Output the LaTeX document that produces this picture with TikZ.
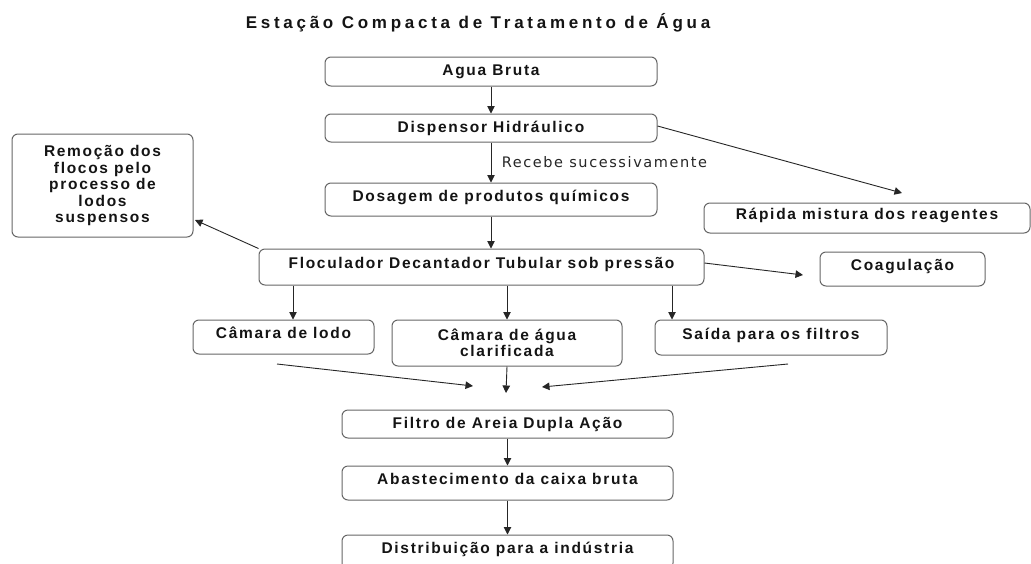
\documentclass[tikz,border=0pt]{standalone}
\usepackage{fontspec}
\setmainfont{Liberation Sans}[LetterSpace=11]
\newfontfamily\titlefont{Liberation Sans}[LetterSpace=22]
\newfontfamily\notefont{DejaVu Sans}[LetterSpace=11]
\usetikzlibrary{arrows.meta}

\tikzset{
	etapa/.style={draw=black!60, line width=1pt, rounded corners=6pt, align=center,
		font=\fontsize{15.5}{16.5}\selectfont\bfseries, text=black!92, inner sep=2pt},
	alto/.style={text height=11pt, text depth=8pt},
	seta/.style={draw=black!85, line width=0.9pt, -{Triangle[length=7.5pt,width=7.5pt]}},
	linha/.style={draw=black!75, line width=0.9pt}
}

\begin{document}
\begin{tikzpicture}[x=1pt, y=-1pt]
			%%%%% START %%%%%
			
			\clip (0, 0) rectangle (1031, 563);
			\fill[white] (0, 0) rectangle (1031, 563);
			
			\node[font=\titlefont\fontsize{17}{19}\selectfont\bfseries, text=black!92] (titulo) at (478, 23) {Estação Compacta de Tratamento de Água};
			
			\node[etapa, minimum width=332, minimum height=29] (agua) at (491, 71.5) {Agua Bruta};
			\node[etapa, minimum width=332, minimum height=28] (dispensor) at (491, 128) {Dispensor Hidráulico};
			\node[etapa, alto, minimum width=332, minimum height=33] (dosagem) at (491, 199.5) {Dosagem de produtos químicos};
			\node[etapa, alto, minimum width=445, minimum height=36] (floculador) at (481.5, 267) {Floculador Decantador Tubular sob pressão};
			
			\node[etapa, minimum width=181, minimum height=103] (remocao) at (102.5, 185.5) {Remoção dos\\flocos pelo\\processo de\\lodos\\suspensos};
			\node[etapa, alto, minimum width=326, minimum height=30] (rapida) at (867, 218) {Rápida mistura dos reagentes};
			\node[etapa, alto, minimum width=165, minimum height=34] (coagulacao) at (902.5, 269) {Coagulação};
			
			\node[etapa, alto, minimum width=181, minimum height=34] (lodo) at (283.5, 337) {Câmara de lodo};
			\node[etapa, minimum width=230, minimum height=46] (clarificada) at (507, 343) {Câmara de água\\clarificada};
			\node[etapa, alto, minimum width=232, minimum height=35] (saida) at (771, 337.5) {Saída para os filtros};
			
			\node[etapa, minimum width=331, minimum height=28] (filtro) at (507.5, 424) {Filtro de Areia Dupla Ação};
			\node[etapa, alto, minimum width=331, minimum height=34] (abastecimento) at (507.5, 483) {Abastecimento da caixa bruta};
			\node[etapa, alto, minimum width=331, minimum height=34] (distribuicao) at (507.5, 552) {Distribuição para a indústria};
			
			% pontas soltas
			\coordinate (pRapida) at (902, 193);
			\coordinate (pRemocao) at (195, 220);
			\coordinate (pCoag) at (803, 275);
			\coordinate (iniLodo) at (277, 364);
			\coordinate (fimLodo) at (473, 386);
			\coordinate (iniSaida) at (788, 364);
			\coordinate (fimSaida) at (542, 387);
			\coordinate (fimMeio) at (506, 393);
			
			\draw[seta] (agua) -- (dispensor);
			\draw[seta] (dispensor) -- node[right, font=\notefont\fontsize{14.5}{16}\selectfont, text=black!85, xshift=7pt] (recebe) {Recebe sucessivamente} (dosagem);
			\draw[seta] ([yshift=2pt]dispensor.east) -- (pRapida);
			\draw[seta] (dosagem.south) -- (dosagem.south |- floculador.north);
			
			\draw[seta] (floculador.north west) -- (pRemocao);
			\draw[seta] ([yshift=4pt]floculador.east) -- (pCoag);
			
			\draw[seta] ([xshift=9.5pt]lodo.north |- floculador.south) -- ([xshift=9.5pt]lodo.north);
			\draw[seta] (clarificada.north |- floculador.south) -- (clarificada.north);
			\draw[seta] ([xshift=-99pt]saida.north |- floculador.south) -- ([xshift=-99pt]saida.north);
			
			\draw[seta] (iniLodo) -- (fimLodo);
			\draw[seta] (iniSaida) -- (fimSaida);
			\draw[seta] (clarificada.south) -- (fimMeio);
			
			\draw[seta] (filtro) -- (abastecimento);
			\draw[seta] (abastecimento) -- (distribuicao);
			
			%%%%% END %%%%%
\end{tikzpicture}
\end{document}
